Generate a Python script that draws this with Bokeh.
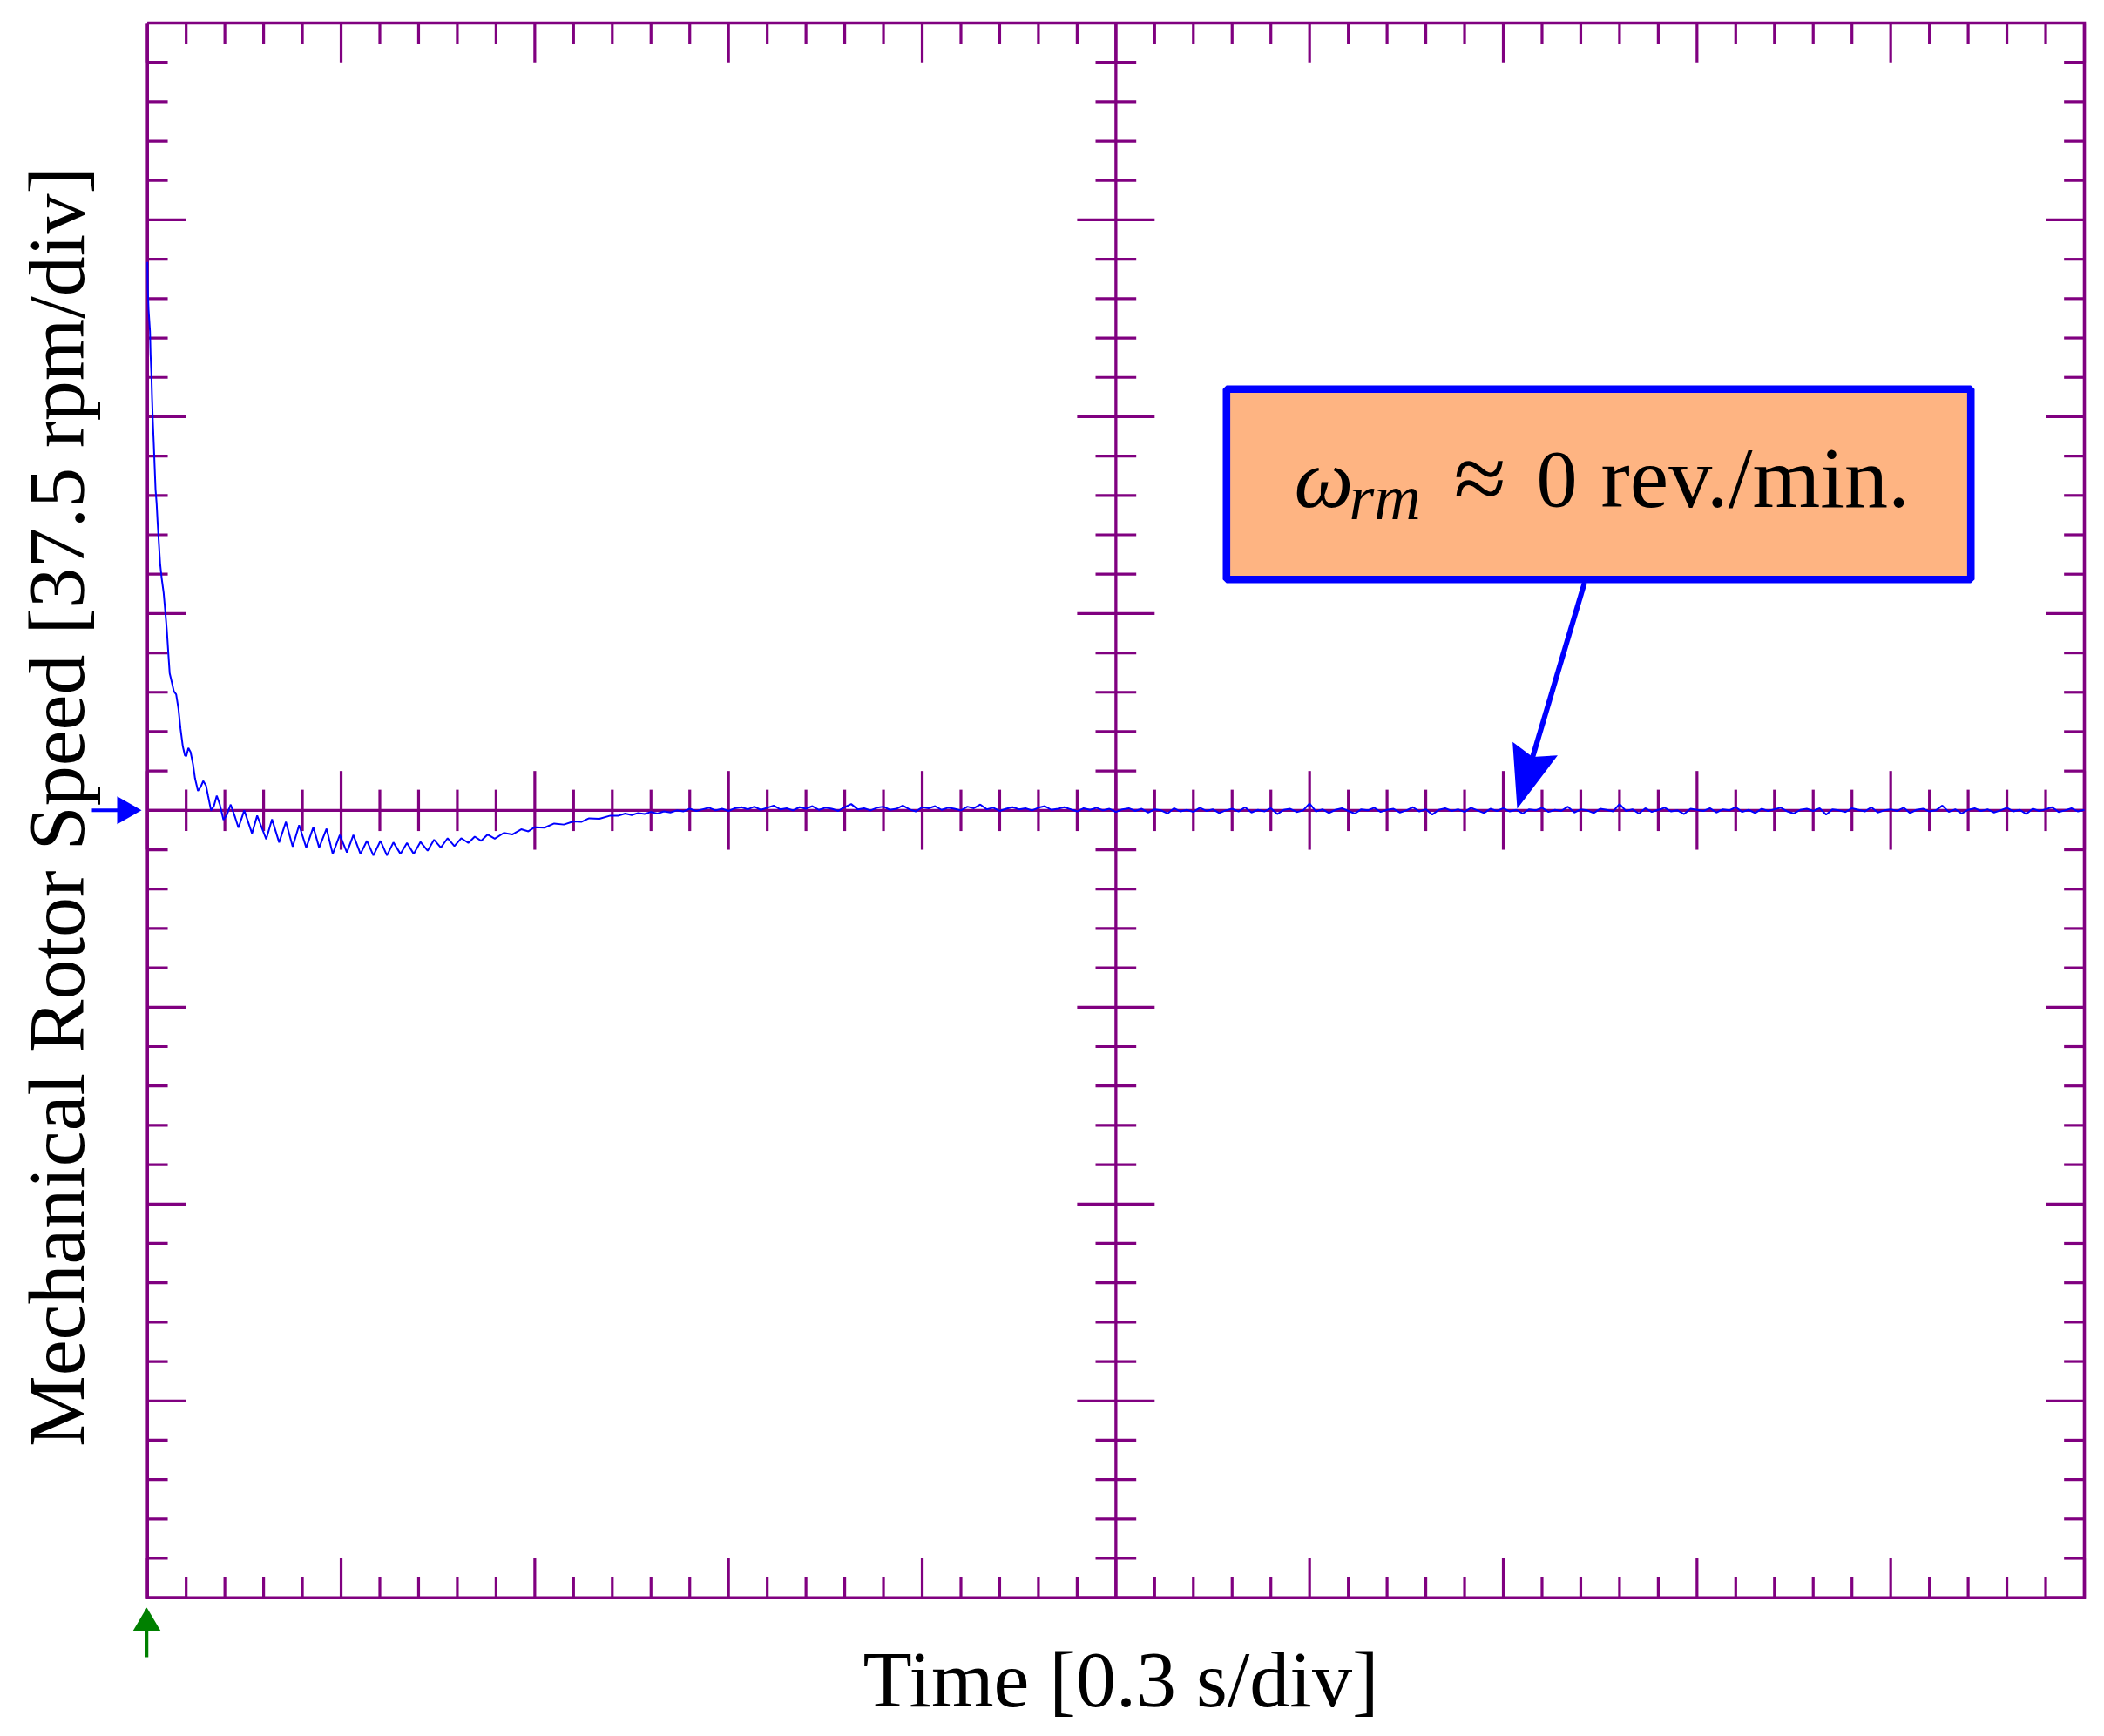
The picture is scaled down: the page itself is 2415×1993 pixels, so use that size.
import numpy as np
from bokeh.plotting import figure
from bokeh.models import Range1d
from bokeh.embed import file_html
from bokeh.resources import INLINE
from bokeh.core.properties import value

# ---------------- data ----------------
T_PER_DIV = 0.3      # s / div
RPM_PER_DIV = 37.5   # rpm / div
N_XDIV = 10
N_YDIV = 8

x_label = "Time [0.3 s/div]"
y_label = "Mechanical Rotor Speed [37.5 rpm/div]"
note_symbol = "\u03c9"
note_sub = "rm"
note_approx = "\u2248"
note_value = "0"
note_unit = "rev./min."

# transient part: time [s], speed [rpm]
t_transient = [0.0000, 0.0005, 0.0018, 0.0040, 0.0049, 0.0062, 0.0072, 0.0085, 0.0099, 0.0112,
               0.0126, 0.0143, 0.0157, 0.0179, 0.0197, 0.0220, 0.0251, 0.0278, 0.0301, 0.0324,
               0.0345, 0.0378, 0.0409, 0.0445, 0.0480, 0.0513, 0.0548, 0.0580, 0.0602, 0.0634,
               0.0669, 0.0706, 0.0737, 0.0783, 0.0827, 0.0864, 0.0908, 0.0939, 0.0985, 0.1029,
               0.1074, 0.1120, 0.1178, 0.1232, 0.1290, 0.1358, 0.1410, 0.1500, 0.1620, 0.1700,
               0.1840, 0.1930, 0.2040, 0.2145, 0.2250, 0.2350, 0.2460, 0.2570, 0.2660, 0.2775,
               0.2870, 0.2980, 0.3090, 0.3190, 0.3300, 0.3400, 0.3500, 0.3610, 0.3710, 0.3810,
               0.3920, 0.4020, 0.4125, 0.4230, 0.4340, 0.4440, 0.4545, 0.4650, 0.4755, 0.4860,
               0.4970, 0.5070, 0.5170, 0.5270, 0.5380, 0.5520, 0.5650, 0.5790, 0.5900, 0.6000,
               0.6150, 0.6300, 0.6450, 0.6600, 0.6720, 0.6840, 0.7000, 0.7170]
rpm_transient = [104.5, 99.6, 95.4, 91.3, 86.8, 83.0, 78.5, 73.8, 69.7, 65.5,
                 61.1, 58.4, 55.1, 50.6, 47.0, 44.3, 41.5, 37.7, 34.3, 29.9,
                 26.1, 24.4, 22.7, 22.1, 19.4, 15.5, 12.2, 10.5, 10.3, 11.9,
                 11.1, 8.8, 6.1, 3.7, 4.5, 5.6, 4.7, 2.8, 0.0, 0.8,
                 2.8, 1.2, -1.8, -0.8, 1.1, -1.3, -3.3, 0.0, -4.4, -1.0,
                 -5.5, -1.7, -6.1, -2.2, -6.9, -2.8, -7.1, -3.2, -7.1, -3.5,
                 -8.3, -4.7, -8.0, -4.7, -8.3, -5.8, -8.6, -5.8, -8.6, -6.1,
                 -8.3, -6.2, -8.3, -6.0, -7.7, -5.6, -7.1, -5.3, -6.8, -5.3,
                 -6.2, -5.0, -5.8, -4.6, -5.4, -4.3, -4.6, -3.6, -4.0, -3.2,
                 -3.3, -2.5, -2.7, -2.1, -2.2, -1.5, -1.6, -1.0]

# settled part: samples every 10 ms from 0.73 s, speed [rpm]
t_settled_start = 0.73
t_settled_step = 0.01
rpm_settled = [-1.0, -0.6, -0.9, -0.5, -0.7, -0.3, -0.6, -0.2, -0.4, 0.0,
               -0.2, 0.3, -0.1, 0.2, 0.5, 0.0, 0.3, -0.1, 0.4, 0.6,
               0.2, 0.7, 0.1, 0.5, 0.9, 0.2, 0.4, 0.0, 0.6, 0.3,
               0.8, 0.1, 0.5, 0.3, -0.1, 0.6, 1.2, 0.2, 0.4, 0.0,
               0.5, 0.7, 0.1, 0.3, 0.9, 0.2, -0.2, 0.6, 0.4, 0.8,
               0.1, 0.5, 0.3, 0.0, 0.7, 0.4, 1.1, 0.2, 0.5, -0.1,
               0.3, 0.6, 0.2, 0.4, 0.0, 0.5, 0.8, 0.1, 0.3, 0.6,
               0.2, -0.2, 0.4, 0.1, 0.5, 0.0, 0.3, -0.3, 0.2, 0.4,
               -0.1, 0.3, -0.4, 0.2, 0.0, -0.6, 0.4, -0.2, 0.1, -0.3,
               0.5, -0.1, 0.2, -0.5, 0.0, 0.3, -0.2, 0.6, -0.4, 0.1,
               -0.2, 0.4, -0.7, 0.1, 0.3, -0.3, 0.0, 1.3, -0.2, 0.2,
               -0.5, 0.1, 0.4, -0.1, -0.6, 0.2, 0.0, 0.5, -0.3, 0.1,
               0.3, -0.4, 0.0, 0.6, -0.2, 0.2, -0.8, 0.1, 0.4, -0.1,
               0.2, -0.3, 0.5, 0.0, -0.5, 0.3, -0.1, 0.4, -0.2, 0.1,
               -0.6, 0.2, 0.0, 0.5, -0.3, 0.1, -0.1, 0.7, -0.4, 0.2,
               0.0, -0.5, 0.3, 0.1, -0.2, 1.2, -0.1, 0.2, -0.6, 0.4,
               -0.3, 0.1, 0.5, -0.2, 0.0, -0.7, 0.3, 0.1, -0.1, 0.4,
               -0.4, 0.2, 0.0, 0.6, -0.3, 0.1, -0.5, 0.3, -0.1, 0.2,
               0.5, -0.2, -0.6, 0.1, 0.3, -0.1, 0.4, -0.8, 0.2, 0.0,
               -0.3, 0.4, 0.1, -0.2, 0.6, -0.4, 0.0, 0.2, -0.1, 0.5,
               -0.5, 0.1, 0.3, -0.2, 0.0, 0.9, -0.3, 0.2, -0.6, 0.1,
               0.4, -0.1, 0.2, -0.4, 0.0, 0.5, -0.2, 0.1, -0.7, 0.3,
               -0.1, 0.2, 0.6, -0.3, 0.0, 0.4, -0.2, 0.1]

t_settled = [t_settled_start + i * t_settled_step for i in range(len(rpm_settled))]
t_all = list(t_transient) + t_settled
rpm_all = list(rpm_transient) + rpm_settled

# ---------------- layout ----------------
PURPLE = "#800080"
BLUE = "#0000ff"
GREEN = "#008000"
BOX_FILL = "#feb482"
FONT = value("Liberation Serif")

W, H = 2410, 1988
ORIGIN = 0                   # bokeh's page template has no body margin
GX0, GX1 = 168.7, 2392.0     # graticule edges on page (px)
GY0, GY1 = 26.0, 1833.7
SX = (GX1 - GX0) / (N_XDIV * T_PER_DIV)    # px per second
SY = (GY1 - GY0) / (N_YDIV * RPM_PER_DIV)  # px per rpm
CY = (GY0 + GY1) / 2.0
BASE_SHIFT = 0.32            # em correction for the alphabetic baseline


def X(px):
    return (px - GX0) / SX


def Y(py):
    return (CY - py) / SY


p = figure(width=W, height=H, output_backend="svg", toolbar_location=None,
           x_range=Range1d(X(ORIGIN), X(ORIGIN + W)),
           y_range=Range1d(Y(ORIGIN + H), Y(ORIGIN)),
           min_border=0, min_border_left=0, min_border_right=0,
           min_border_top=0, min_border_bottom=0)
p.axis.visible = False
p.grid.visible = False
p.outline_line_color = None
p.background_fill_color = "white"
p.border_fill_color = "white"

xd = T_PER_DIV
yd = RPM_PER_DIV
x_max = N_XDIV * xd
y_half = N_YDIV / 2 * yd

# ticks
MINOR = 0.105
MAJOR = 0.2
x0s, y0s, x1s, y1s = [], [], [], []
for k in range(N_XDIV * 5 + 1):
    xv = k * xd / 5
    L = MAJOR if k % 5 == 0 else MINOR
    x0s.append(xv); y0s.append(y_half); x1s.append(xv); y1s.append(y_half - L * yd)
    x0s.append(xv); y0s.append(-y_half); x1s.append(xv); y1s.append(-y_half + L * yd)
    x0s.append(xv); y0s.append(-L * yd); x1s.append(xv); y1s.append(L * yd)
for k in range(N_YDIV * 5 + 1):
    yv = -y_half + k * yd / 5
    L = MAJOR if k % 5 == 0 else MINOR
    x0s.append(0); y0s.append(yv); x1s.append(L * xd); y1s.append(yv)
    x0s.append(x_max); y0s.append(yv); x1s.append(x_max - L * xd); y1s.append(yv)
    x0s.append(x_max / 2 - L * xd); y0s.append(yv); x1s.append(x_max / 2 + L * xd); y1s.append(yv)
p.segment(x0=x0s, y0=y0s, x1=x1s, y1=y1s, line_color=PURPLE, line_width=3.2)

# centre cross
p.segment(x0=[0, x_max / 2], y0=[0, -y_half], x1=[x_max, x_max / 2], y1=[0, y_half],
          line_color=PURPLE, line_width=3.3)
# border
p.line(x=[0, x_max, x_max, 0, 0], y=[y_half, y_half, -y_half, -y_half, y_half],
       line_color=PURPLE, line_width=3.6, line_join="miter")

# trace
p.line(x=t_all, y=rpm_all, line_color=BLUE, line_width=2.0)

# channel marker (left) and trigger marker (bottom)
p.segment(x0=[X(105)], y0=[0], x1=[X(137)], y1=[0], line_color=BLUE, line_width=4)
p.patch(x=[X(162), X(134), X(134)], y=[0, Y(CY - 16), Y(CY + 16)], color=BLUE, line_width=0)
p.segment(x0=[X(168)], y0=[Y(1870)], x1=[X(168)], y1=[Y(1902)], line_color=GREEN, line_width=3.5)
p.patch(x=[X(168), X(152), X(184)], y=[Y(1845), Y(1872), Y(1872)], color=GREEN, line_width=0)

# annotation box
p.quad(left=[X(1407.3)], right=[X(2261.7)], top=[Y(446.3)], bottom=[Y(664.7)],
       fill_color=BOX_FILL, line_color=BLUE, line_width=8.6)

# annotation arrow
tail = np.array([1818.3, 668.3])
tip = np.array([1741.0, 928.0])
u = (tip - tail) / np.linalg.norm(tip - tail)
n = np.array([u[1], -u[0]])
neck = tip - 62 * u
bl = tip - 72 * u + 27 * n
br = tip - 72 * u - 27 * n
p.segment(x0=[X(tail[0])], y0=[Y(tail[1])], x1=[X(neck[0])], y1=[Y(neck[1])],
          line_color=BLUE, line_width=6)
p.patch(x=[X(tip[0]), X(bl[0]), X(neck[0]), X(br[0])],
        y=[Y(tip[1]), Y(bl[1]), Y(neck[1]), Y(br[1])], color=BLUE, line_width=0)


def htext(px, py, txt, size, style="normal", align="left"):
    p.text(x=[X(px)], y=[Y(py - BASE_SHIFT * size)], text=[txt], text_font=FONT,
           text_font_style=style, text_font_size=value(f"{size}px"), text_color="black",
           text_align=align, text_baseline="alphabetic")


# annotation text (px positions of each piece's left edge and baseline)
htext(1485, 580, note_symbol, 96, "italic")
htext(1548, 594, note_sub, 74, "italic")
htext(1668, 584, note_approx, 110)
htext(1763, 580, note_value, 94)
htext(1837, 580, note_unit, 100)

# axis titles
htext(1286, 1957, x_label, 92, align="center")
p.text(x=[X(94 - BASE_SHIFT * 92)], y=[Y(926)], text=[y_label], text_font=FONT,
       text_font_size=value("92px"), text_color="black", text_align="center",
       text_baseline="alphabetic", angle=np.pi / 2)

open("out.html", "w").write(file_html(p, INLINE))
